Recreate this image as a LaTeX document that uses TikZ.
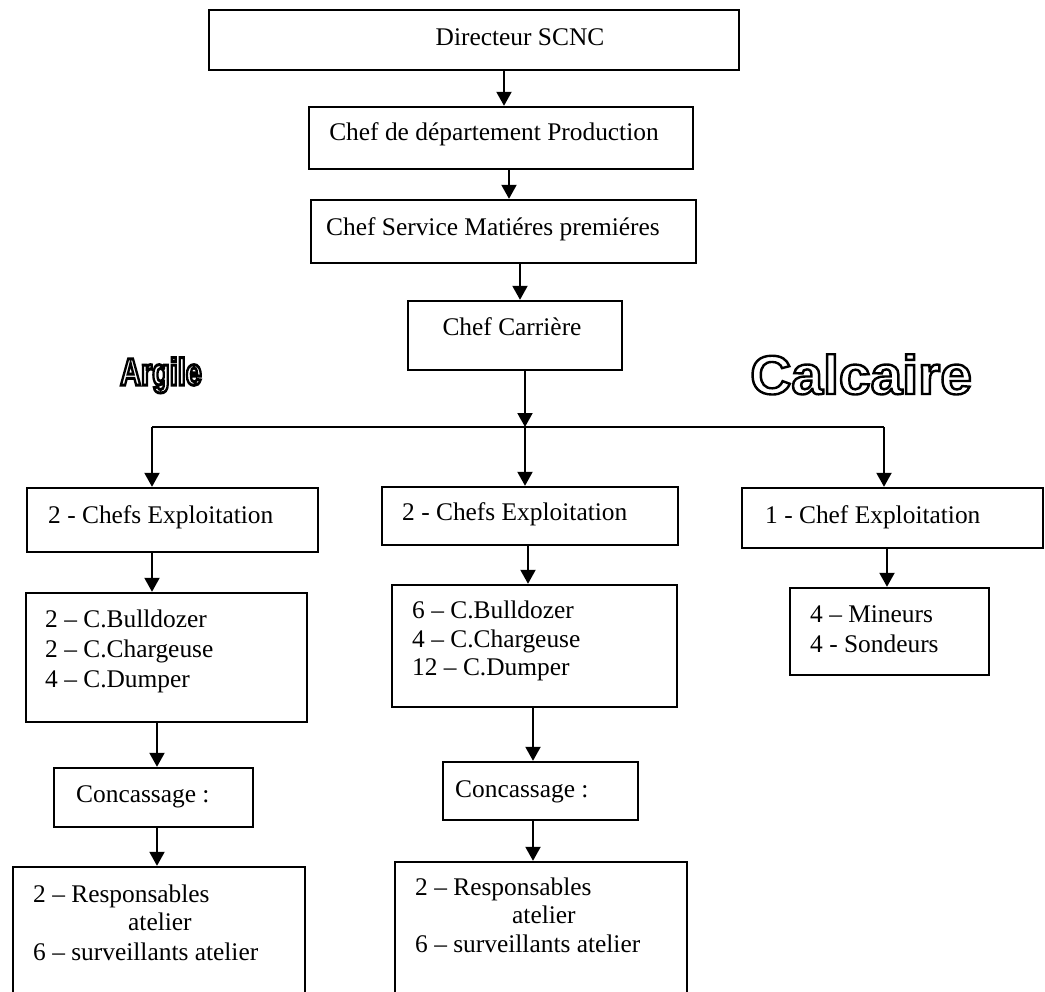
\documentclass[tikz,border=0pt]{standalone}
\usepackage{fontspec}
\setmainfont{Liberation Serif}
\newfontfamily\outlinefont{Liberation Sans}
\usetikzlibrary{arrows.meta}
\tikzset{
  box/.style={draw=black, line width=2.4bp, inner sep=0pt, fill=none},
  txt/.style={inner sep=0pt, font=\fontsize{25.5}{30}\selectfont, anchor=base west},
  ctxt/.style={txt, anchor=base},
  arr/.style={line width=2bp, -{Triangle[length=14bp,width=15bp]}},
  ln/.style={line width=2bp},
}
\newcommand{\boxat}[5]{\node[box, minimum width=#4bp, minimum height=#5bp] (#1) at (#2,#3) {};}
\newcommand{\outlined}[2]{\special{pdf:code 1 Tr #1 w}#2\special{pdf:code 0 Tr}}
\begin{document}
\begin{tikzpicture}[x=1bp,y=-1bp]
\useasboundingbox (0,0) rectangle (1045,992);
\begin{scope}
\clip (0,0) rectangle (1045,992);
% boxes: name, center x, center y, width, height
\boxat{dir}{474}{40}{530}{60}
\boxat{prod}{501}{138}{384}{62}
\boxat{serv}{503.5}{231.5}{385}{63}
\boxat{carr}{515}{335.5}{214}{69}
\boxat{exA}{172.5}{520}{291}{64}
\boxat{exB}{530}{516}{296}{58}
\boxat{exC}{892.5}{518}{301}{60}
\boxat{eqA}{166.5}{657.5}{281}{129}
\boxat{eqB}{534.5}{646}{285}{122}
\boxat{eqC}{889.5}{631.5}{199}{87}
\boxat{coA}{153.5}{797.5}{199}{59}
\boxat{coB}{540.5}{791}{195}{58}
\boxat{reA}{159}{967}{292}{200}
\boxat{reB}{541}{962}{292}{200}

% texts
\node[ctxt] (t-dir) at (520,45) {Directeur SCNC};
\node[ctxt] (t-prod) at (494,140) {Chef de département Production};
\node[ctxt] (t-serv) at (493,235) {Chef Service Matiéres premiéres};
\node[ctxt] (t-carr) at (512,335) {Chef Carrière};
\node[txt] (t-exA) at (48,523) {2 - Chefs Exploitation};
\node[txt] (t-exB) at (402,520) {2 - Chefs Exploitation};
\node[txt] (t-exC) at (765,523) {1 - Chef Exploitation};
\node[txt] (t-eqA1) at (45,627) {2 -- C.Bulldozer};
\node[txt] (t-eqA2) at (45,657) {2 -- C.Chargeuse};
\node[txt] (t-eqA3) at (45,687) {4 -- C.Dumper};
\node[txt] (t-eqB1) at (412,618) {6 -- C.Bulldozer};
\node[txt] (t-eqB2) at (412,647) {4 -- C.Chargeuse};
\node[txt] (t-eqB3) at (412,675) {12 -- C.Dumper};
\node[txt] (t-eqC1) at (810,622) {4 -- Mineurs};
\node[txt] (t-eqC2) at (810,652) {4 - Sondeurs};
\node[txt] (t-coA) at (76,802) {Concassage :};
\node[txt] (t-coB) at (455,797) {Concassage :};
\node[txt] (t-reA1) at (33,902) {2 -- Responsables};
\node[txt] (t-reA2) at (128,930) {atelier};
\node[txt] (t-reA3) at (33,960) {6 -- surveillants atelier};
\node[txt] (t-reB1) at (415,895) {2 -- Responsables};
\node[txt] (t-reB2) at (512,923) {atelier};
\node[txt] (t-reB3) at (415,952) {6 -- surveillants atelier};

% outlined titles
\node[inner sep=0pt, anchor=base west] (argile) at (120,385) {\scalebox{0.76}[1]{\fontsize{38}{38}\selectfont\outlinefont\bfseries\outlined{3}{Argile}}};
\node[inner sep=0pt, anchor=base west] (calcaire) at (750,394) {\scalebox{1.04}[1]{\fontsize{55}{55}\selectfont\outlinefont\bfseries\outlined{2.4}{Calcaire}}};

% connector x positions
\coordinate (x1) at (504,0);
\coordinate (x2) at (509,0);
\coordinate (x3) at (520,0);
\coordinate (xC) at (525,0);
\coordinate (xL) at (152,0);
\coordinate (xR) at (884,0);
\coordinate (xA2) at (152,0);
\coordinate (xB2) at (528,0);
\coordinate (xC2) at (887,0);
\coordinate (xA3) at (157,0);
\coordinate (xB3) at (533,0);
\coordinate (lineY) at (0,427);
\coordinate (jC) at (xC |- lineY);
\coordinate (jL) at (xL |- lineY);
\coordinate (jR) at (xR |- lineY);

\draw[arr] (dir.south -| x1) -- (prod.north -| x1);
\draw[arr] (prod.south -| x2) -- (serv.north -| x2);
\draw[arr] (serv.south -| x3) -- (carr.north -| x3);
\draw[arr] (carr.south -| xC) -- (jC);
\draw[ln] (jL) -- (jR);
\draw[arr] (jL) -- (exA.north -| xL);
\draw[arr] (jC) -- (exB.north -| xC);
\draw[arr] (jR) -- (exC.north -| xR);
\draw[arr] (exA.south -| xA2) -- (eqA.north -| xA2);
\draw[arr] (exB.south -| xB2) -- (eqB.north -| xB2);
\draw[arr] (exC.south -| xC2) -- (eqC.north -| xC2);
\draw[arr] (eqA.south -| xA3) -- (coA.north -| xA3);
\draw[arr] (eqB.south -| xB3) -- (coB.north -| xB3);
\draw[arr] (coA.south -| xA3) -- (reA.north -| xA3);
\draw[arr] (coB.south -| xB3) -- (reB.north -| xB3);
\end{scope}
\end{tikzpicture}
\end{document}
